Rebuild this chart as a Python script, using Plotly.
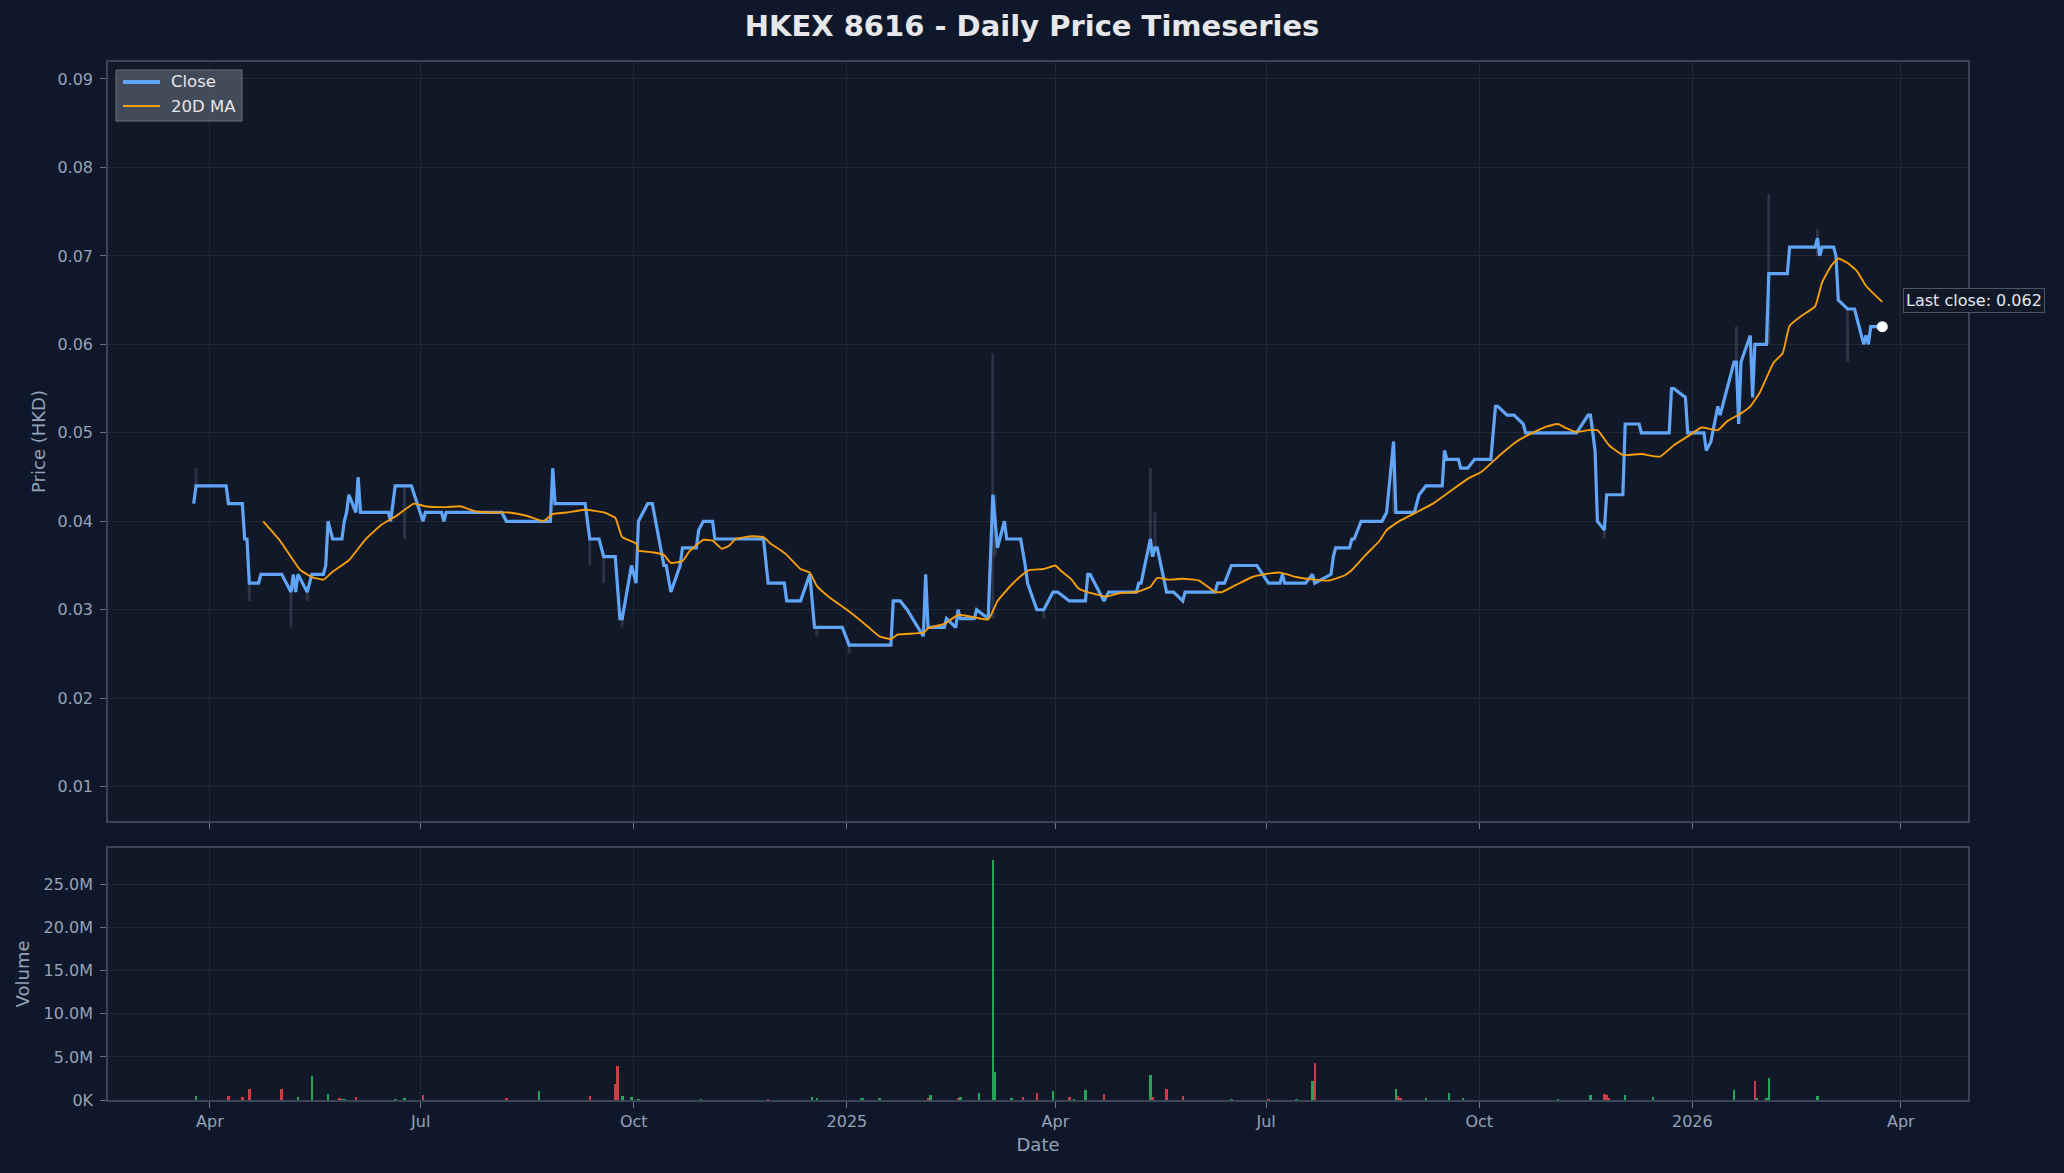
import plotly.graph_objects as go

# ---------------- data ----------------
close_dates = [
    "2024-03-25", "2024-03-26", "2024-04-08", "2024-04-09", "2024-04-15", "2024-04-16", "2024-04-17",
    "2024-04-18", "2024-04-22", "2024-04-23", "2024-05-02", "2024-05-06", "2024-05-07", "2024-05-08",
    "2024-05-09", "2024-05-13", "2024-05-15", "2024-05-20", "2024-05-21", "2024-05-22", "2024-05-23",
    "2024-05-24", "2024-05-28", "2024-05-29", "2024-05-30", "2024-05-31", "2024-06-03", "2024-06-04",
    "2024-06-05", "2024-06-17", "2024-06-18", "2024-06-20", "2024-06-27", "2024-07-02", "2024-07-03",
    "2024-07-10", "2024-07-11", "2024-07-12", "2024-08-05", "2024-08-07", "2024-08-26", "2024-08-27",
    "2024-08-28", "2024-09-10", "2024-09-12", "2024-09-16", "2024-09-18", "2024-09-23", "2024-09-25",
    "2024-09-26", "2024-09-30", "2024-10-02", "2024-10-03", "2024-10-07", "2024-10-09", "2024-10-14",
    "2024-10-15", "2024-10-17", "2024-10-21", "2024-10-22", "2024-10-28", "2024-10-29", "2024-10-31",
    "2024-11-04", "2024-11-05", "2024-11-26", "2024-11-28", "2024-12-05", "2024-12-06", "2024-12-12",
    "2024-12-16", "2024-12-17", "2024-12-18", "2024-12-30", "2025-01-02", "2025-01-20", "2025-01-21",
    "2025-01-24", "2025-01-27", "2025-02-03", "2025-02-04", "2025-02-05", "2025-02-12", "2025-02-13",
    "2025-02-17", "2025-02-18", "2025-02-19", "2025-02-25", "2025-02-26", "2025-03-03", "2025-03-05",
    "2025-03-07", "2025-03-10", "2025-03-11", "2025-03-17", "2025-03-19", "2025-03-20", "2025-03-24",
    "2025-03-27", "2025-03-31", "2025-04-02", "2025-04-07", "2025-04-14", "2025-04-15", "2025-04-16",
    "2025-04-22", "2025-04-24", "2025-05-06", "2025-05-07", "2025-05-08", "2025-05-12", "2025-05-13",
    "2025-05-14", "2025-05-15", "2025-05-19", "2025-05-22", "2025-05-26", "2025-05-27", "2025-06-09",
    "2025-06-10", "2025-06-13", "2025-06-16", "2025-06-27", "2025-07-02", "2025-07-07", "2025-07-08",
    "2025-07-09", "2025-07-18", "2025-07-21", "2025-07-22", "2025-07-29", "2025-07-30", "2025-07-31",
    "2025-08-06", "2025-08-07", "2025-08-08", "2025-08-11", "2025-08-20", "2025-08-22", "2025-08-25",
    "2025-08-26", "2025-09-03", "2025-09-04", "2025-09-05", "2025-09-08", "2025-09-15", "2025-09-16",
    "2025-09-17", "2025-09-22", "2025-09-23", "2025-09-26", "2025-09-29", "2025-10-06", "2025-10-08",
    "2025-10-09", "2025-10-13", "2025-10-16", "2025-10-20", "2025-10-21", "2025-11-12", "2025-11-17",
    "2025-11-18", "2025-11-19", "2025-11-20", "2025-11-21", "2025-11-24", "2025-11-25", "2025-12-02",
    "2025-12-03", "2025-12-09", "2025-12-10", "2025-12-22", "2025-12-23", "2025-12-24", "2025-12-29",
    "2025-12-30", "2026-01-06", "2026-01-07", "2026-01-09", "2026-01-12", "2026-01-13", "2026-01-19",
    "2026-01-20", "2026-01-21", "2026-01-22", "2026-01-26", "2026-01-27", "2026-01-28", "2026-02-02",
    "2026-02-03", "2026-02-11", "2026-02-12", "2026-02-23", "2026-02-24", "2026-02-25", "2026-02-26",
    "2026-03-03", "2026-03-04", "2026-03-05", "2026-03-09", "2026-03-12", "2026-03-16", "2026-03-17",
    "2026-03-18", "2026-03-19", "2026-03-24",
]
close_values = [
    0.042, 0.044, 0.044, 0.042, 0.042, 0.038, 0.038,
    0.033, 0.033, 0.034, 0.034, 0.032, 0.034, 0.032,
    0.034, 0.032, 0.034, 0.034, 0.035, 0.040, 0.039,
    0.038, 0.038, 0.040, 0.041, 0.043, 0.041, 0.045,
    0.041, 0.041, 0.040, 0.044, 0.044, 0.040, 0.041,
    0.041, 0.040, 0.041, 0.041, 0.040, 0.040, 0.046,
    0.042, 0.042, 0.038, 0.038, 0.036, 0.036, 0.029,
    0.029, 0.035, 0.033, 0.040, 0.042, 0.042, 0.035,
    0.035, 0.032, 0.035, 0.037, 0.037, 0.039, 0.040,
    0.040, 0.038, 0.038, 0.033, 0.033, 0.031, 0.031,
    0.034, 0.031, 0.028, 0.028, 0.026, 0.026, 0.031,
    0.031, 0.030, 0.027, 0.034, 0.028, 0.028, 0.029,
    0.028, 0.030, 0.029, 0.029, 0.030, 0.029, 0.043,
    0.037, 0.040, 0.038, 0.038, 0.035, 0.033, 0.030,
    0.030, 0.032, 0.032, 0.031, 0.031, 0.034, 0.034,
    0.031, 0.032, 0.032, 0.033, 0.033, 0.038, 0.036,
    0.037, 0.037, 0.032, 0.032, 0.031, 0.032, 0.032,
    0.033, 0.033, 0.035, 0.035, 0.033, 0.033, 0.034,
    0.033, 0.033, 0.034, 0.033, 0.034, 0.036, 0.037,
    0.037, 0.038, 0.038, 0.040, 0.040, 0.041, 0.049,
    0.041, 0.041, 0.042, 0.043, 0.044, 0.044, 0.048,
    0.047, 0.047, 0.046, 0.046, 0.047, 0.047, 0.053,
    0.053, 0.052, 0.052, 0.051, 0.050, 0.050, 0.052,
    0.052, 0.050, 0.048, 0.040, 0.039, 0.043, 0.043,
    0.051, 0.051, 0.050, 0.050, 0.055, 0.055, 0.054,
    0.050, 0.050, 0.048, 0.049, 0.053, 0.052, 0.058,
    0.058, 0.051, 0.058, 0.061, 0.054, 0.060, 0.060,
    0.068, 0.068, 0.071, 0.071, 0.072, 0.070, 0.071,
    0.071, 0.070, 0.065, 0.064, 0.064, 0.060, 0.061,
    0.060, 0.062, 0.062,
]

ma_dates = [
    "2024-04-24", "2024-05-01", "2024-05-07", "2024-05-10", "2024-05-15", "2024-05-20", "2024-05-24",
    "2024-05-31", "2024-06-07", "2024-06-14", "2024-06-21", "2024-06-28", "2024-07-03", "2024-07-12",
    "2024-07-18", "2024-07-25", "2024-08-01", "2024-08-08", "2024-08-16", "2024-08-23", "2024-08-27",
    "2024-09-02", "2024-09-10", "2024-09-18", "2024-09-23", "2024-09-26", "2024-10-02", "2024-10-03",
    "2024-10-09", "2024-10-14", "2024-10-17", "2024-10-22", "2024-10-25", "2024-10-31", "2024-11-04",
    "2024-11-08", "2024-11-11", "2024-11-14", "2024-11-21", "2024-11-26", "2024-11-29", "2024-12-03",
    "2024-12-06", "2024-12-12", "2024-12-16", "2024-12-19", "2024-12-24", "2025-01-02", "2025-01-10",
    "2025-01-15", "2025-01-20", "2025-01-23", "2025-02-03", "2025-02-05", "2025-02-12", "2025-02-18",
    "2025-02-24", "2025-03-03", "2025-03-06", "2025-03-07", "2025-03-13", "2025-03-18", "2025-03-21",
    "2025-03-27", "2025-04-01", "2025-04-03", "2025-04-08", "2025-04-11", "2025-04-16", "2025-04-23",
    "2025-04-29", "2025-05-06", "2025-05-12", "2025-05-15", "2025-05-20", "2025-05-26", "2025-06-02",
    "2025-06-09", "2025-06-12", "2025-06-18", "2025-06-25", "2025-06-30", "2025-07-07", "2025-07-14",
    "2025-07-22", "2025-07-28", "2025-08-04", "2025-08-07", "2025-08-13", "2025-08-19", "2025-08-22",
    "2025-08-28", "2025-09-03", "2025-09-11", "2025-09-19", "2025-09-26", "2025-10-02", "2025-10-10",
    "2025-10-17", "2025-10-24", "2025-10-30", "2025-11-04", "2025-11-07", "2025-11-12", "2025-11-17",
    "2025-11-21", "2025-11-26", "2025-12-02", "2025-12-10", "2025-12-18", "2025-12-24", "2025-12-30",
    "2026-01-05", "2026-01-12", "2026-01-16", "2026-01-22", "2026-01-26", "2026-01-30", "2026-02-05",
    "2026-02-09", "2026-02-12", "2026-02-17", "2026-02-23", "2026-02-26", "2026-03-02", "2026-03-05",
    "2026-03-09", "2026-03-13", "2026-03-17", "2026-03-20", "2026-03-24",
]
ma_values = [
    0.0400, 0.0379, 0.0356, 0.0345, 0.0337, 0.0334, 0.0343,
    0.0356, 0.0379, 0.0396, 0.0407, 0.0420, 0.0417, 0.0416,
    0.0417, 0.0411, 0.0410, 0.0410, 0.0406, 0.0400, 0.0408,
    0.0410, 0.0413, 0.0410, 0.0404, 0.0382, 0.0375, 0.0367,
    0.0365, 0.0362, 0.0353, 0.0355, 0.0366, 0.0379, 0.0378,
    0.0369, 0.0372, 0.0380, 0.0383, 0.0382, 0.0375, 0.0368,
    0.0362, 0.0346, 0.0342, 0.0327, 0.0315, 0.0298, 0.0281,
    0.0270, 0.0267, 0.0272, 0.0274, 0.0279, 0.0284, 0.0294,
    0.0292, 0.0289, 0.0304, 0.0310, 0.0328, 0.0340, 0.0345,
    0.0346, 0.0350, 0.0345, 0.0334, 0.0324, 0.0319, 0.0315,
    0.0319, 0.0320, 0.0326, 0.0336, 0.0334, 0.0335, 0.0333,
    0.0320, 0.0320, 0.0328, 0.0337, 0.0340, 0.0342, 0.0337,
    0.0334, 0.0333, 0.0339, 0.0345, 0.0362, 0.0378, 0.0390,
    0.0401, 0.0409, 0.0420, 0.0435, 0.0448, 0.0456, 0.0475,
    0.0490, 0.0500, 0.0507, 0.0510, 0.0506, 0.0501, 0.0503,
    0.0503, 0.0486, 0.0475, 0.0476, 0.0473, 0.0486, 0.0496,
    0.0506, 0.0503, 0.0513, 0.0522, 0.0530, 0.0545, 0.0579,
    0.0590, 0.0621, 0.0632, 0.0643, 0.0670, 0.0689, 0.0697,
    0.0692, 0.0683, 0.0666, 0.0658, 0.0648,
]

# intraday range spikes (low / high) visible behind the close line
wick_dates = [
    "2024-03-26", "2024-04-18", "2024-05-06", "2024-05-13", "2024-06-24", "2024-09-12", "2024-09-18",
    "2024-09-26", "2024-12-19", "2025-01-02", "2025-03-05", "2025-03-06", "2025-03-27", "2025-05-12",
    "2025-05-14", "2025-08-25", "2025-11-24", "2026-01-20", "2026-02-03", "2026-02-24", "2026-03-09",
]
wick_low = [
    0.044, 0.031, 0.028, 0.031, 0.038, 0.035, 0.033,
    0.028, 0.027, 0.025, 0.029, 0.036, 0.029, 0.036,
    0.037, 0.041, 0.038, 0.058, 0.060, 0.070, 0.058,
]
wick_high = [
    0.046, 0.033, 0.032, 0.032, 0.044, 0.038, 0.036,
    0.030, 0.028, 0.026, 0.059, 0.043, 0.030, 0.046,
    0.041, 0.049, 0.040, 0.062, 0.077, 0.073, 0.064,
]

vol_dates = [
    "2024-03-26", "2024-04-09", "2024-04-15", "2024-04-18", "2024-05-02", "2024-05-09", "2024-05-15",
    "2024-05-22", "2024-05-27", "2024-05-28", "2024-05-29", "2024-06-03", "2024-06-20", "2024-06-24",
    "2024-07-02", "2024-08-07", "2024-08-21", "2024-09-12", "2024-09-23", "2024-09-24", "2024-09-26",
    "2024-09-30", "2024-10-03", "2024-10-30", "2024-11-28", "2024-12-17", "2024-12-19", "2025-01-07",
    "2025-01-08", "2025-01-15", "2025-02-05", "2025-02-06", "2025-02-18", "2025-02-19", "2025-02-27",
    "2025-03-05", "2025-03-06", "2025-03-13", "2025-03-18", "2025-03-24", "2025-03-31", "2025-04-07",
    "2025-04-09", "2025-04-14", "2025-04-22", "2025-05-12", "2025-05-13", "2025-05-19", "2025-05-26",
    "2025-06-16", "2025-07-02", "2025-07-14", "2025-07-21", "2025-07-22", "2025-08-26", "2025-08-27",
    "2025-08-28", "2025-09-08", "2025-09-18", "2025-09-24", "2025-11-04", "2025-11-18", "2025-11-24",
    "2025-11-25", "2025-11-26", "2025-12-03", "2025-12-15", "2026-01-19", "2026-01-28", "2026-01-29",
    "2026-02-02", "2026-02-03", "2026-02-24",
]
vol_values = [
    480000, 480000, 360000, 1230000, 1230000, 360000, 2740000,
    750000, 240000, 160000, 160000, 360000, 160000, 280000,
    640000, 280000, 1000000, 520000, 1830000, 3970000, 520000,
    400000, 160000, 160000, 160000, 400000, 280000, 280000,
    280000, 280000, 280000, 640000, 280000, 400000, 870000,
    27800000, 3260000, 280000, 400000, 870000, 1000000, 400000,
    160000, 1110000, 750000, 2900000, 400000, 1230000, 520000,
    160000, 160000, 160000, 2180000, 4330000, 1230000, 520000,
    280000, 280000, 870000, 280000, 160000, 640000, 750000,
    640000, 280000, 640000, 400000, 1110000, 2180000, 280000,
    280000, 2540000, 520000,
]
vol_direction = [
    "up", "down", "down", "down", "down", "up", "up",
    "up", "down", "up", "up", "down", "up", "up",
    "down", "down", "up", "down", "down", "down", "up",
    "up", "up", "up", "down", "up", "up", "up",
    "up", "up", "down", "up", "down", "up", "up",
    "up", "up", "up", "down", "down", "up", "down",
    "up", "up", "down", "up", "down", "down", "down",
    "up", "down", "up", "up", "down", "up", "down",
    "down", "up", "up", "up", "up", "up", "down",
    "down", "down", "up", "up", "up", "down", "up",
    "up", "up", "up",
]

x_tick_dates = ["2024-04-01", "2024-07-01", "2024-10-01", "2025-01-01", "2025-04-01",
                "2025-07-01", "2025-10-01", "2026-01-01", "2026-04-01"]
x_tick_labels = ["Apr", "Jul", "Oct", "2025", "Apr", "Jul", "Oct", "2026", "Apr"]
price_ticks = [0.01, 0.02, 0.03, 0.04, 0.05, 0.06, 0.07, 0.08, 0.09]
vol_ticks = [0, 5e6, 10e6, 15e6, 20e6, 25e6]
vol_tick_labels = ["0K", "5.0M", "10.0M", "15.0M", "20.0M", "25.0M"]

# ---------------- styling ----------------
W, H = 2064, 1173
ML, MR, MT, MB = 108, 96, 62, 73
PAPER = "#0f172a"
PLOT = "#111827"
GRID = "#1f2937"
SPINE = "#3a4556"
TICK = "#94a3b8"
TEXT = "#e5e7eb"
FONT = "DejaVu Sans"
UP = "#27a35a"
DOWN = "#cf3c47"
CLOSE_COLOR = "#60a5fa"
MA_COLOR = "#f59e0b"

fig = go.Figure()

# wicks
wx, wy = [], []
for d, lo, hi in zip(wick_dates, wick_low, wick_high):
    wx += [d, d, None]
    wy += [lo, hi, None]
fig.add_trace(go.Scatter(x=wx, y=wy, mode="lines", line=dict(color="rgba(148,163,184,0.2)", width=3),
                         showlegend=False, hoverinfo="skip", xaxis="x", yaxis="y"))

fig.add_trace(go.Scatter(x=close_dates, y=close_values, mode="lines", name="Close",
                         line=dict(color=CLOSE_COLOR, width=3.2), showlegend=False, xaxis="x", yaxis="y"))
fig.add_trace(go.Scatter(x=ma_dates, y=ma_values, mode="lines", name="20D MA",
                         line=dict(color=MA_COLOR, width=1.9, shape="spline", smoothing=0.4),
                         showlegend=False, xaxis="x", yaxis="y"))
fig.add_trace(go.Scatter(x=[close_dates[-1]], y=[close_values[-1]], mode="markers",
                         marker=dict(color="white", size=11), showlegend=False, xaxis="x", yaxis="y"))

fig.add_trace(go.Bar(x=vol_dates, y=vol_values,
                     marker=dict(color=[UP if v == "up" else DOWN for v in vol_direction], line=dict(width=0)),
                     width=86400000 * 1.1, showlegend=False, xaxis="x2", yaxis="y2"))

fig.add_annotation(x=close_dates[-1], y=close_values[-1], xref="x", yref="y",
                   text=f"Last close: {close_values[-1]:.3f}", showarrow=False,
                   xanchor="left", yanchor="middle", xshift=21, yshift=26,
                   font=dict(family=FONT, size=16, color=TEXT),
                   bgcolor=PLOT, bordercolor="#4b5563", borderwidth=1, borderpad=2)

# ---- legend box (drawn in paper coordinates converted from pixels) ----
PW, PH = W - ML - MR, H - MT - MB
def px(x):
    return (x - ML) / PW
def py(y):
    return (H - MB - y) / PH

fig.add_shape(type="rect", xref="paper", yref="paper", x0=px(116), x1=px(242), y0=py(121), y1=py(70),
              fillcolor="rgba(75,85,99,0.85)", line=dict(color="#6b7280", width=1), layer="above")
legend_items = [("Close", CLOSE_COLOR, 4, 82), ("20D MA", MA_COLOR, 2.2, 106)]
for label, color, lw, yy in legend_items:
    fig.add_shape(type="line", xref="paper", yref="paper", x0=px(123), x1=px(160), y0=py(yy), y1=py(yy),
                  line=dict(color=color, width=lw), layer="above")
    fig.add_annotation(x=px(169), y=py(yy), xref="paper", yref="paper", text=label, showarrow=False,
                       xanchor="left", yanchor="middle", font=dict(family=FONT, size=16.5, color=TEXT))

x_range = ["2024-02-17", "2026-04-30"]
common_x = dict(range=x_range, type="date", showgrid=True, gridcolor=GRID, gridwidth=1,
                tickvals=x_tick_dates, ticktext=x_tick_labels, ticks="outside", ticklen=6,
                tickcolor="#64748b", showline=True, mirror=True, linecolor=SPINE, linewidth=1.5,
                zeroline=False, tickfont=dict(family=FONT, size=16, color=TICK))

fig.update_layout(
    width=W, height=H,
    paper_bgcolor=PAPER, plot_bgcolor=PLOT,
    margin=dict(l=ML, r=MR, t=MT, b=MB),
    title=dict(text="<b>HKEX 8616 - Daily Price Timeseries</b>", x=0.5, xanchor="center",
               y=1 - 26 / H, yanchor="middle", font=dict(family=FONT, size=29, color=TEXT)),
    xaxis=dict(**common_x, anchor="y", domain=[0, 1], showticklabels=False),
    xaxis2=dict(**common_x, anchor="y2", domain=[0, 1], matches="x",
                title=dict(text="Date", standoff=8, font=dict(family=FONT, size=18, color=TICK))),
    yaxis=dict(domain=[0.2688, 1], range=[0.00612, 0.09192], tickvals=price_ticks,
               ticktext=[f"{v:.2f}" for v in price_ticks], ticks="outside", ticklen=6,
               ticklabelstandoff=4,
               tickcolor="#64748b", showgrid=True, gridcolor=GRID, showline=True, mirror=True,
               linecolor=SPINE, linewidth=1.5, zeroline=False,
               tickfont=dict(family=FONT, size=16, color=TICK),
               title=dict(text="Price (HKD)", standoff=7, font=dict(family=FONT, size=18, color=TICK))),
    yaxis2=dict(domain=[0, 0.2428], range=[0, 29.24e6], tickvals=vol_ticks, ticktext=vol_tick_labels,
                ticks="outside", ticklen=6, ticklabelstandoff=4,
                tickcolor="#64748b", showgrid=True, gridcolor=GRID,
                showline=True, mirror=True, linecolor=SPINE, linewidth=1.5, zeroline=False,
                tickfont=dict(family=FONT, size=16, color=TICK),
                title=dict(text="Volume", standoff=9, font=dict(family=FONT, size=18, color=TICK))),
    bargap=0,
    showlegend=False,
)

fig.write_html("out.html", config={"displayModeBar": False},
               post_script="document.body.style.margin='0';document.body.style.background='#0f172a';")
